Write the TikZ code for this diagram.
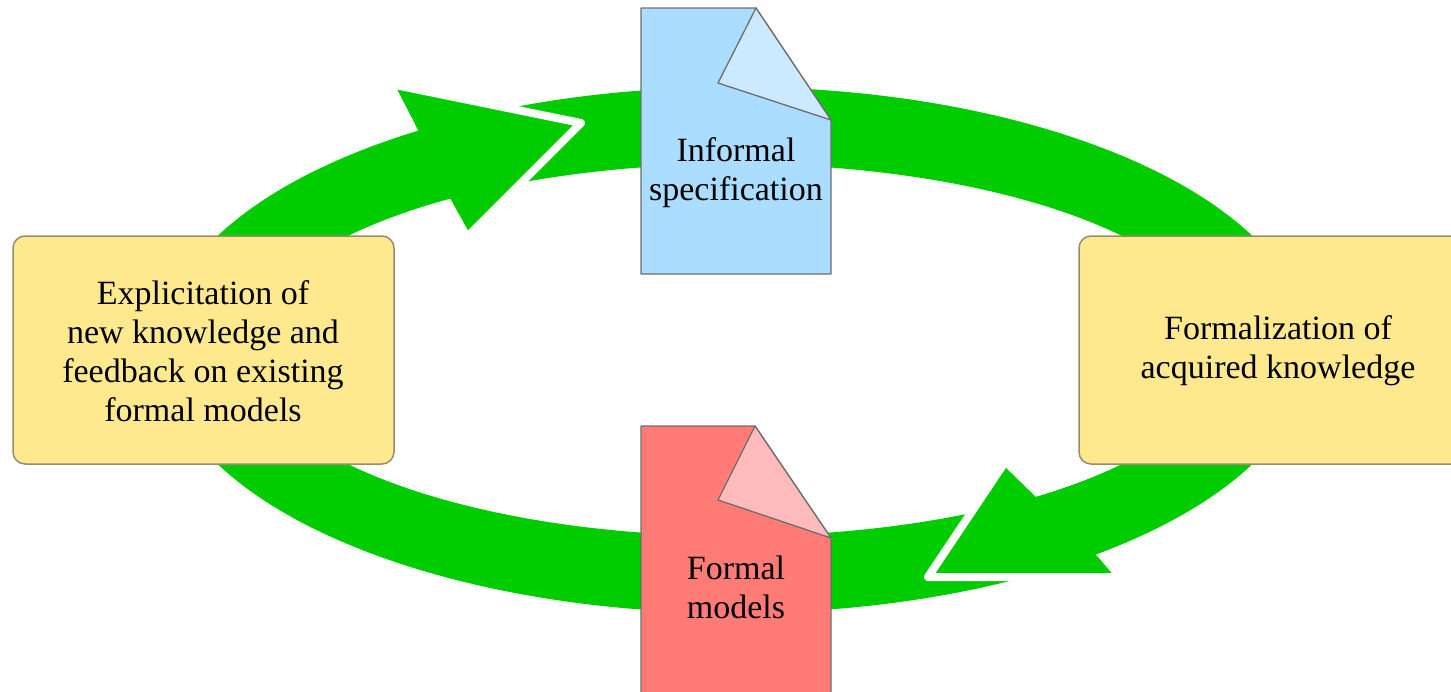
\documentclass[tikz,border=0pt]{standalone}
\usepackage{fontspec}
\setmainfont{Liberation Serif}
\definecolor{ringgreen}{RGB}{0,204,0}
\definecolor{boxyellow}{RGB}{255,233,143}
\definecolor{boxedge}{RGB}{150,140,110}
\definecolor{docblue}{RGB}{170,221,255}
\definecolor{flapblue}{RGB}{204,234,255}
\definecolor{docred}{RGB}{255,124,118}
\definecolor{flapred}{RGB}{255,187,187}
\definecolor{docedge}{RGB}{110,110,110}
\begin{document}
\begin{tikzpicture}[x=1pt,y=-1pt,
  txt/.style={font=\fontsize{34}{39}\selectfont, align=center, text=black, inner sep=0pt},
  stepbox/.style={draw=boxedge, line width=1.5pt, fill=boxyellow, rounded corners=12pt, minimum height=228pt, inner sep=0pt},
  docbody/.style={draw=docedge, line width=1.3pt, line join=round},
  arrowedge/.style={draw=white, line width=8pt, line cap=round, line join=round}]
\useasboundingbox (0,0) rectangle (1451,691);
\clip (0,0) rectangle (1451,691);
% ring
\fill[ringgreen, even odd rule] (735,350) ellipse [x radius=574, y radius=263]
                                (735,350) ellipse [x radius=490, y radius=186];
% top arrowhead
\fill[ringgreen] (395,85) -- (581,123) -- (470,234) -- (450,198) -- (417,128) -- cycle;
\draw[arrowedge] (395,85) -- (581,123) -- (470,234);
% bottom arrowhead
\fill[ringgreen] (1003,465) -- (928,577) -- (1115,577) -- (1098,557) -- (1038,499) -- cycle;
\draw[arrowedge] (1003,465) -- (928,577) -- (1115,577);
% informal specification document
\filldraw[docbody, fill=docblue] (641,8) -- (756,8) -- (831,120) -- (831,274) -- (641,274) -- cycle;
\filldraw[docbody, fill=flapblue] (756,8) -- (718,83) -- (831,120) -- cycle;
\node[txt] (inf) at (736,173) {Informal\\specification};
% formal models document
\filldraw[docbody, fill=docred] (641,426) -- (755,426) -- (831,538) -- (831,700) -- (641,700) -- cycle;
\filldraw[docbody, fill=flapred] (755,426) -- (718,500) -- (831,538) -- cycle;
\node[txt] (fm) at (736,587) {Formal\\models};
% boxes
\node[stepbox, minimum width=381pt] (expl) at (203.5,350) {};
\node[txt] (expltxt) at (203,351) {Explicitation of\\new knowledge and\\feedback on existing\\formal models};
\node[stepbox, minimum width=399pt] (form) at (1278.5,350) {};
\node[txt] (formtxt) at (1278,351) {Formalization of\\acquired knowledge};
\end{tikzpicture}
\end{document}
